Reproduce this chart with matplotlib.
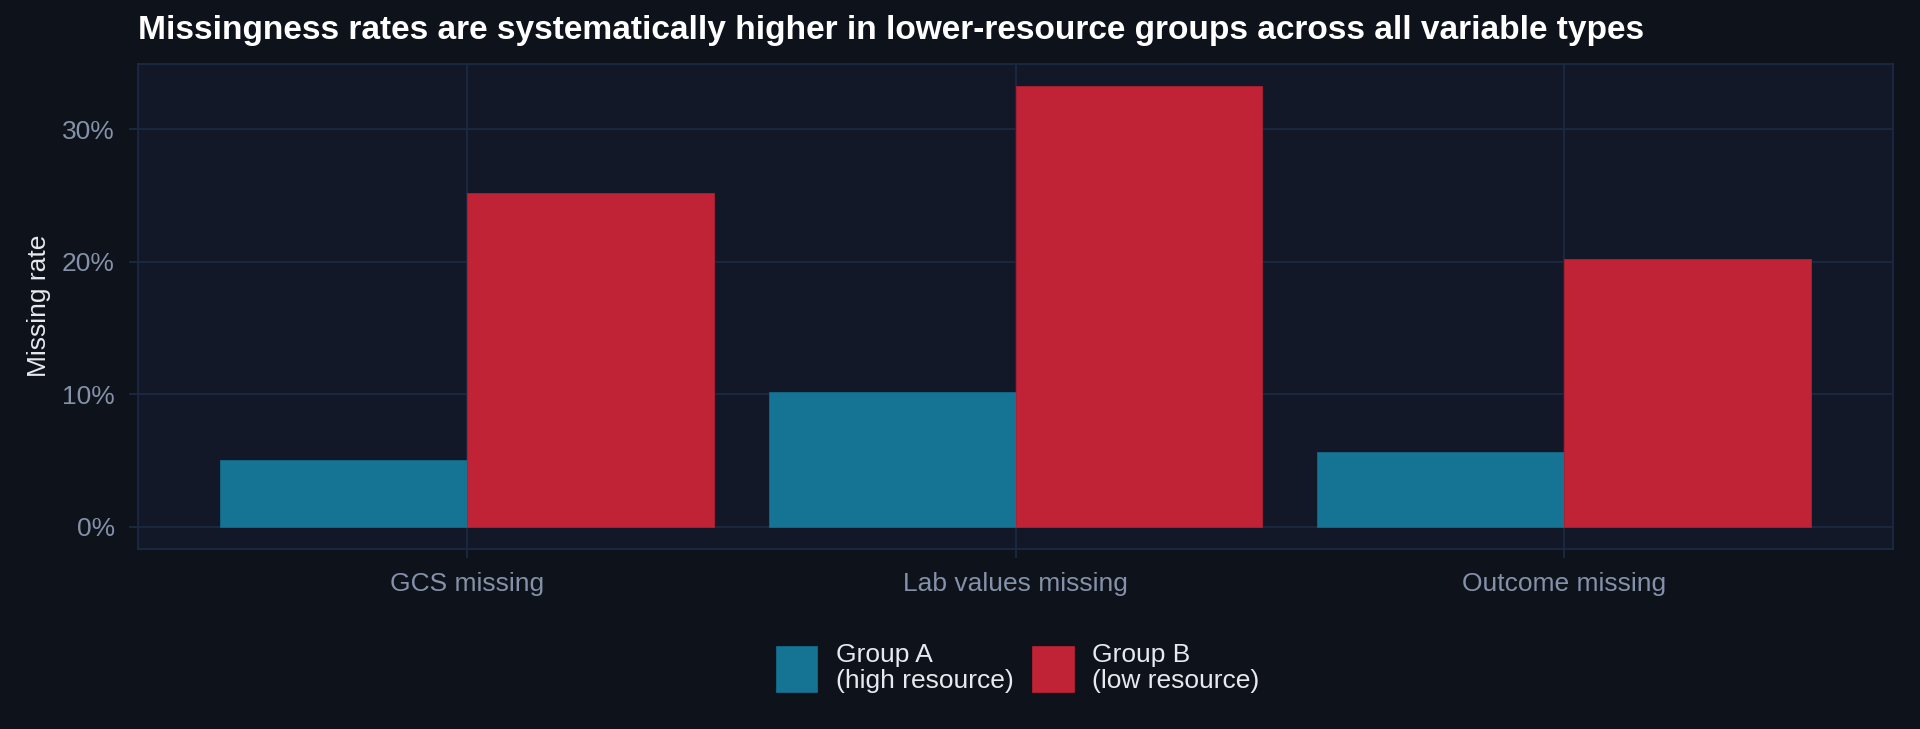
import numpy as np
import matplotlib
matplotlib.use("Agg")
import matplotlib.pyplot as plt
from matplotlib.ticker import PercentFormatter

# data (missing rate, %)
categories = ["GCS missing", "Lab values missing", "Outcome missing"]
group_a = [5.0, 10.2, 5.6]     # high resource
group_b = [25.2, 33.3, 20.2]   # low resource
labels = ["Group A\n(high resource)", "Group B\n(low resource)"]
y_ticks = [0, 10, 20, 30]

fig_bg = "#0e121b"
panel_bg = "#121827"
grid_col = "#1c2942"
teal = "#157394"
red = "#c02236"
tick_col = "#8491a8"

plt.rcParams["font.family"] = ["Liberation Sans", "DejaVu Sans"]

fig = plt.figure(figsize=(19.2, 7.29), dpi=100, facecolor=fig_bg)
ax = fig.add_axes([0.072, 0.2475, 0.914, 0.665])
ax.set_facecolor(panel_bg)

x = np.arange(len(categories))
w = 0.45
ax.bar(x - w / 2, group_a, width=w, color=teal, edgecolor="#126a88", linewidth=0.6,
       label=labels[0], zorder=3)
ax.bar(x + w / 2, group_b, width=w, color=red, edgecolor="#b01f33", linewidth=0.6,
       label=labels[1], zorder=3)

ymax = max(group_b)
ax.set_ylim(-0.05 * ymax, 1.05 * ymax)
ax.set_xlim(-0.6, len(categories) - 0.4)
ax.set_xticks(x)
ax.set_xticklabels(categories)
ax.set_yticks(y_ticks)
ax.yaxis.set_major_formatter(PercentFormatter(decimals=0))

ax.grid(True, color=grid_col, linewidth=1.3, zorder=0)
ax.set_axisbelow(True)
for s in ax.spines.values():
    s.set_color(grid_col)
    s.set_linewidth(1.3)

ax.tick_params(axis="both", colors=grid_col, labelcolor=tick_col, labelsize=19,
               length=6.5, width=1.3, pad=10.5)

fig.text(0.072, 0.958, "Missingness rates are systematically higher in lower-resource groups across all variable types",
         color="white", fontsize=24.1, fontweight="bold", ha="left", va="center")
fig.text(0.0205, 0.58, "Missing rate", color="#e6e9ef", fontsize=19,
         rotation=90, ha="center", va="center")

leg = fig.legend(loc="center", bbox_to_anchor=(0.53, 0.084), ncol=2, frameon=False,
                 fontsize=19, handlelength=1.57, handleheight=2.34,
                 handletextpad=0.7, columnspacing=0.72, labelcolor="#e6e9ef")
for t in leg.get_texts():
    t.set_linespacing(1.08)

fig.savefig("out.png", dpi=100, facecolor=fig_bg)
